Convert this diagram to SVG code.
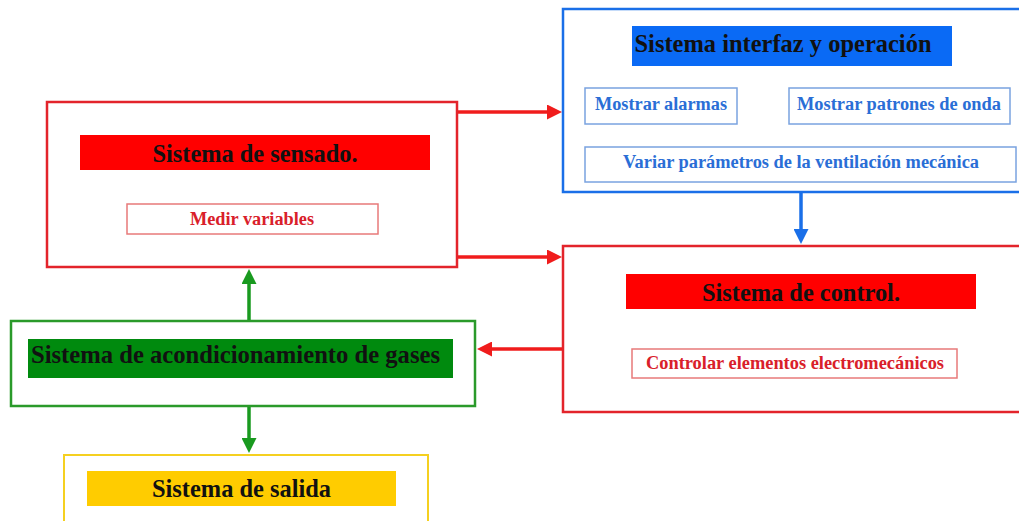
<svg xmlns="http://www.w3.org/2000/svg" width="1019" height="521" viewBox="0 0 1019 521">
<defs>
<style>
.t{font-family:"Liberation Serif","Times New Roman",serif;font-weight:bold;text-anchor:middle}
.big{font-size:25px;fill:#111}
.sm{font-size:18px}
.red{fill:#d9202a}
.blue{fill:#2a6ed6}
.conn{fill:none;stroke-width:3.5}
</style>
<marker id="ar" markerUnits="userSpaceOnUse" markerWidth="15" markerHeight="15" refX="4" refY="7.5" orient="auto"><path d="M0,0 L15,7.5 L0,15 z" fill="#f01c1c"/></marker>
<marker id="ab" markerUnits="userSpaceOnUse" markerWidth="15" markerHeight="15" refX="4" refY="7.5" orient="auto"><path d="M0,0 L15,7.5 L0,15 z" fill="#1a6fe8"/></marker>
<marker id="ag" markerUnits="userSpaceOnUse" markerWidth="15" markerHeight="15" refX="4" refY="7.5" orient="auto"><path d="M0,0 L15,7.5 L0,15 z" fill="#199a1f"/></marker>
</defs>
<rect width="1019" height="521" fill="#ffffff"/>

<g id="connectors">
<path class="conn" stroke="#f01c1c" d="M457,112 L551,112" marker-end="url(#ar)"/>
<path class="conn" stroke="#f01c1c" d="M457,257 L551,257" marker-end="url(#ar)"/>
<path class="conn" stroke="#1a6fe8" d="M801,192 L801,233" marker-end="url(#ab)"/>
<path class="conn" stroke="#f01c1c" d="M563,349 L488,349" marker-end="url(#ar)"/>
<path class="conn" stroke="#199a1f" d="M249,321 L249,280" marker-end="url(#ag)"/>
<path class="conn" stroke="#199a1f" d="M249,406 L249,442" marker-end="url(#ag)"/>
</g>

<g id="sensado">
<rect x="47" y="102" width="410" height="165" fill="#fff" stroke="#e3242b" stroke-width="2.5"/>
<rect x="80" y="135" width="350" height="35" fill="#ff0000"/>
<text class="t big" x="255" y="162" textLength="205" lengthAdjust="spacingAndGlyphs">Sistema de sensado.</text>
<rect x="127" y="204" width="251" height="30" fill="#fff" stroke="#e87a7a" stroke-width="1.5"/>
<text class="t sm red" x="252" y="225" textLength="124" lengthAdjust="spacingAndGlyphs">Medir variables</text>
</g>

<g id="interfaz">
<rect x="563" y="9" width="470" height="183" fill="#fff" stroke="#1a6fe8" stroke-width="2.5"/>
<rect x="632" y="26" width="320" height="40" fill="#0a6af5"/>
<text class="t big" x="783" y="52" font-size="26" textLength="297" lengthAdjust="spacingAndGlyphs">Sistema interfaz y operación</text>
<rect x="585" y="88" width="152" height="36" fill="#fff" stroke="#7aa3e0" stroke-width="1.5"/>
<text class="t sm blue" x="661" y="110" textLength="132" lengthAdjust="spacingAndGlyphs">Mostrar alarmas</text>
<rect x="789" y="88" width="221" height="36" fill="#fff" stroke="#7aa3e0" stroke-width="1.5"/>
<text class="t sm blue" x="899" y="110" textLength="204" lengthAdjust="spacingAndGlyphs">Mostrar patrones de onda</text>
<rect x="585" y="147" width="431" height="35" fill="#fff" stroke="#7aa3e0" stroke-width="1.5"/>
<text class="t sm blue" x="801" y="168" textLength="356" lengthAdjust="spacingAndGlyphs">Variar parámetros de la ventilación mecánica</text>
</g>

<g id="control">
<rect x="563" y="246" width="470" height="166" fill="#fff" stroke="#e3242b" stroke-width="2.5"/>
<rect x="626" y="274" width="350" height="35" fill="#ff0000"/>
<text class="t big" x="801" y="301" textLength="198" lengthAdjust="spacingAndGlyphs">Sistema de control.</text>
<rect x="632" y="349" width="325" height="29" fill="#fff" stroke="#e87a7a" stroke-width="1.5"/>
<text class="t sm red" x="795" y="369" textLength="298" lengthAdjust="spacingAndGlyphs">Controlar elementos electromecánicos</text>
</g>

<g id="acondicionamiento">
<rect x="11" y="321" width="464" height="85" fill="#fff" stroke="#2a9a2a" stroke-width="2.5"/>
<rect x="28" y="339" width="425" height="39" fill="#008a0e"/>
<text class="t big" x="235.5" y="363" textLength="409" lengthAdjust="spacingAndGlyphs">Sistema de acondicionamiento de gases</text>
</g>

<g id="salida">
<rect x="64" y="455" width="364" height="80" fill="#fff" stroke="#f5d020" stroke-width="2"/>
<rect x="87" y="471" width="309" height="35" fill="#ffcc00"/>
<text class="t big" x="241.5" y="497" textLength="179" lengthAdjust="spacingAndGlyphs">Sistema de salida</text>
</g>
</svg>
